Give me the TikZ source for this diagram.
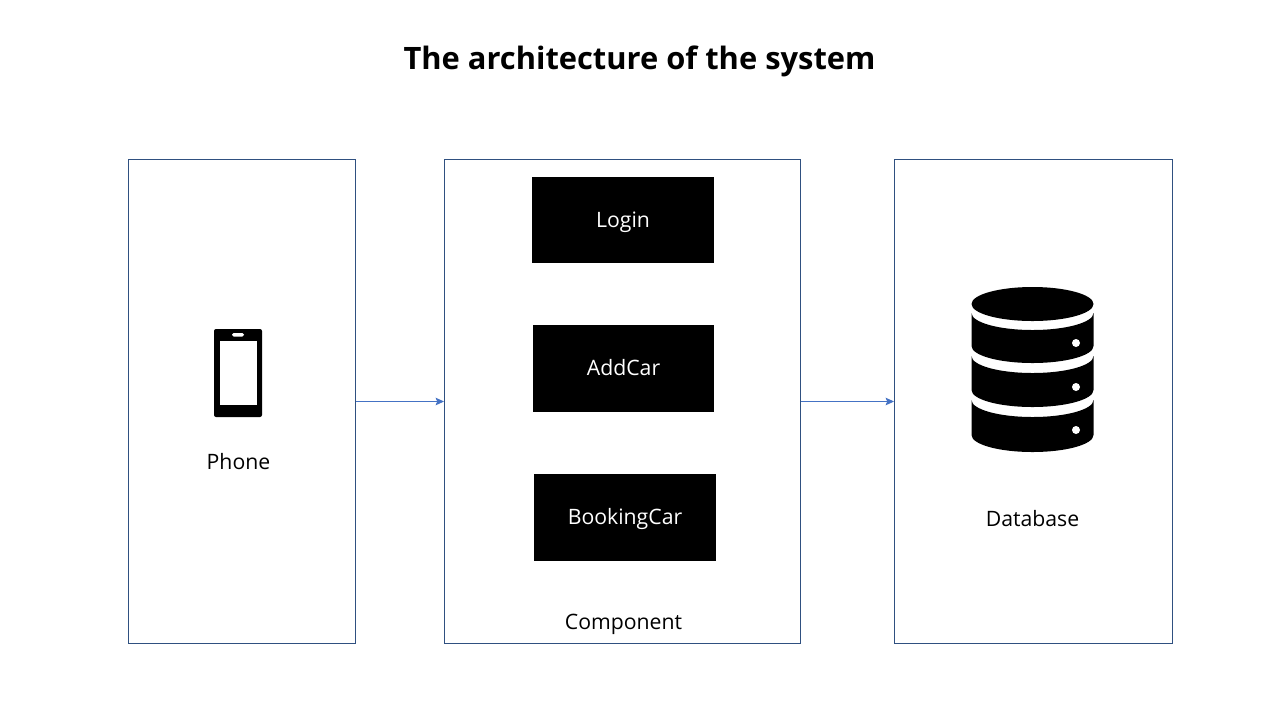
\documentclass[tikz,border=0pt]{standalone}
\usepackage{fontspec}
\setmainfont{Open Sans}
\usetikzlibrary{positioning, arrows.meta}
\definecolor{boxline}{HTML}{2F5080}
\definecolor{arrowline}{HTML}{4472C4}
\begin{document}
\begin{tikzpicture}[x=0.25mm, y=-0.25mm, font=\fontsize{15.1}{18}\selectfont]
    \tikzset{
        part/.style={rectangle, minimum height=121mm, inner sep=0pt,
        draw=boxline, line width=0.25mm},
        module/.style={rectangle, minimum height=21.6mm, minimum width=45.5mm,
        inner sep=0pt, text centered, text height=4.1mm, text depth=0.8mm,
        fill=black, text=white},
        caption/.style={inner sep=0pt, text=black},
        arrow/.style={arrowline, line width=0.25mm, -{Stealth[length=2.1mm, width=1.9mm, inset=0.4mm]}}
    }
    \useasboundingbox (0,0) rectangle (1280,720);

    \node (title) [caption, font=\fontsize{21.95}{26}\selectfont\bfseries] at (639.5,61.5) {The architecture of the system};

    % outer boxes
    \node (phone) [part, minimum width=56.75mm] at (242,401.5) {};
    \node (component) [part, minimum width=89mm, right=22mm of phone] {};
    \node (database) [part, minimum width=69.5mm, right=23.25mm of component] {};

    % modules
    \node (login) [module, text depth=0.4mm] at (623,220) {Login};
    \node (addcar) [module, minimum width=45.25mm] at (623.5,368.5) {AddCar};
    \node (bookingcar) [module] at (625,517.5) {BookingCar};

    % labels
    \node (phonetext) [caption] at (238.5,461.5) {Phone};
    \node (componenttext) [caption] at (623.5,624) {Component};
    \node (databasetext) [caption] at (1032.5,518.5) {Database};

    \draw [arrow] (phone) -- (component);
    \draw [arrow] (component) -- (database);

    % phone icon
    \fill [rounded corners=0.5mm] (214,329) rectangle (262,417);
    \fill [white] (220,341) rectangle (257,405);
    \fill [white, rounded corners=0.4mm] (232,333) rectangle (244,336.5);

    % database icon
    \fill (1032.5,304) ellipse [x radius=61, y radius=17];
    \foreach \ya/\yb/\yc in {313/346/343, 356/390/387, 400/435/430} {
        \fill (971.5,\ya) arc [start angle=180, end angle=0, x radius=61, y radius=17]
            -- (1093.5,\yb) arc [start angle=0, end angle=180, x radius=61, y radius=17] -- cycle;
        \fill [white] (1076,\yc) circle [radius=4];
    }
\end{tikzpicture}
\end{document}
